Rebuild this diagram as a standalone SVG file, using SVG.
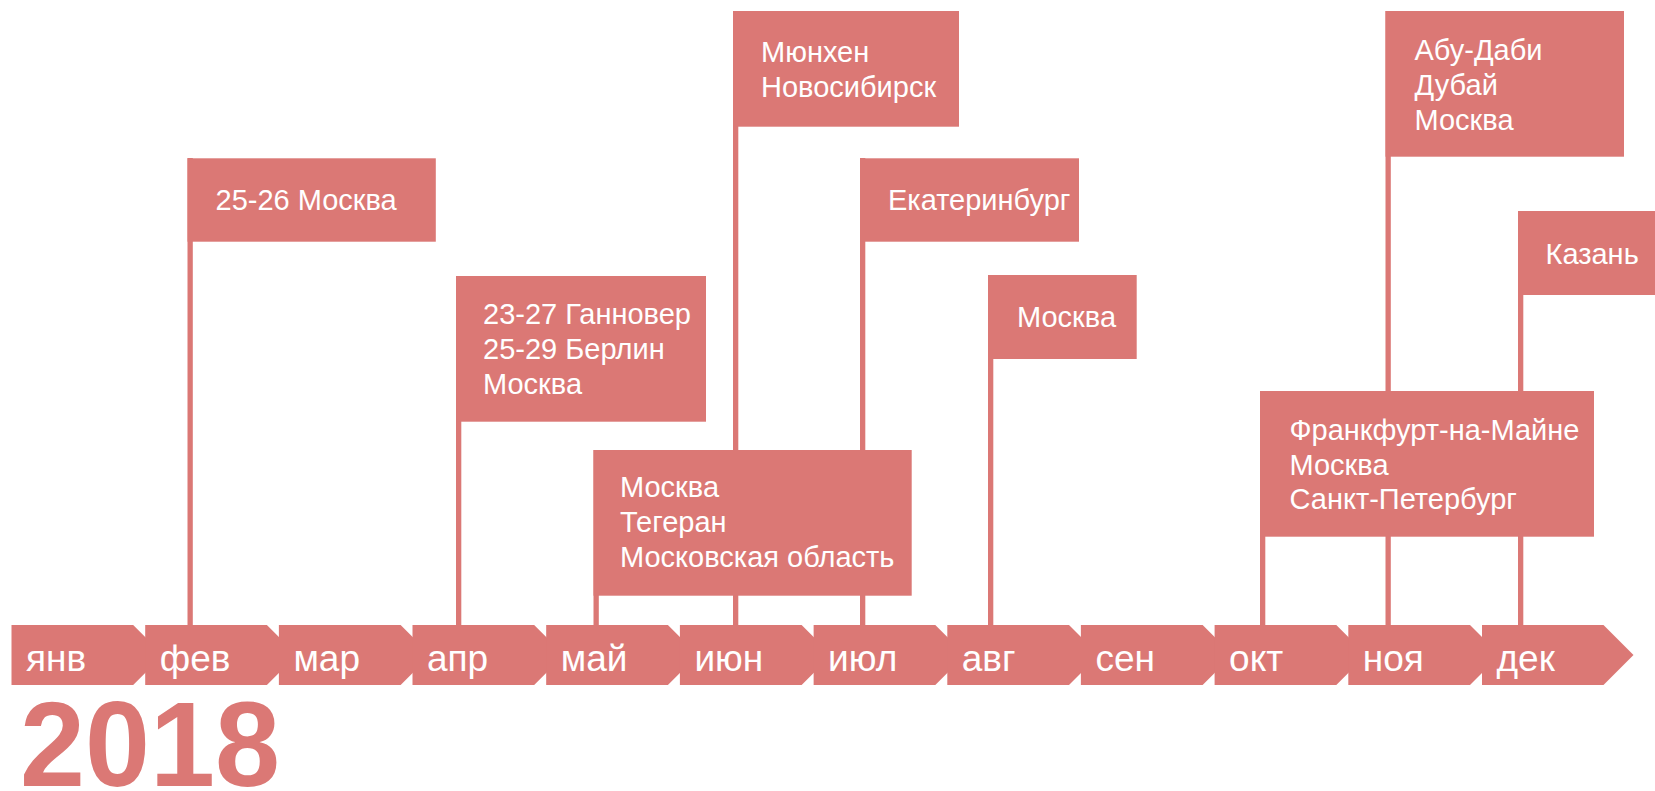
<svg xmlns="http://www.w3.org/2000/svg" width="1655" height="791" viewBox="0 0 1655 791">
<style>
.f{fill:#DB7875}
.t{fill:#fff;font-family:"Liberation Sans",Arial,sans-serif;font-size:29px}
.m{fill:#fff;font-family:"Liberation Sans",Arial,sans-serif;font-size:37px}
.y{fill:#DB7875;font-family:"Liberation Sans",Arial,sans-serif;font-size:120px;font-weight:bold}
</style>
<rect width="1655" height="791" fill="#fff"/>
<g id="connectors">
<rect class="f" x="187.5" y="158" width="5.3" height="467"/>
<rect class="f" x="456" y="276" width="5.3" height="349"/>
<rect class="f" x="593.5" y="450" width="5.3" height="175"/>
<rect class="f" x="733" y="11" width="5.3" height="614"/>
<rect class="f" x="860" y="158" width="5.3" height="467"/>
<rect class="f" x="988" y="275" width="5.3" height="350"/>
<rect class="f" x="1260" y="391" width="5.3" height="234"/>
<rect class="f" x="1385.5" y="11" width="5.3" height="614"/>
<rect class="f" x="1518" y="211" width="5.3" height="414"/>
</g>
<g id="timeline">
<g id="m-jan"><polygon class="f" points="11.5,625 133.2,625 163.2,655 133.2,685 11.5,685"/><text class="m" x="26" y="671">янв</text></g>
<g id="m-feb"><polygon class="f" points="145.2,625 266.9,625 296.9,655 266.9,685 145.2,685"/><text class="m" x="159.7" y="671">фев</text></g>
<g id="m-mar"><polygon class="f" points="278.9,625 400.6,625 430.6,655 400.6,685 278.9,685"/><text class="m" x="293.4" y="671">мар</text></g>
<g id="m-apr"><polygon class="f" points="412.5,625 534.2,625 564.2,655 534.2,685 412.5,685"/><text class="m" x="427" y="671">апр</text></g>
<g id="m-may"><polygon class="f" points="546.2,625 667.9,625 697.9,655 667.9,685 546.2,685"/><text class="m" x="560.7" y="671">май</text></g>
<g id="m-jun"><polygon class="f" points="679.9,625 801.6,625 831.6,655 801.6,685 679.9,685"/><text class="m" x="694.4" y="671">июн</text></g>
<g id="m-jul"><polygon class="f" points="813.6,625 935.3,625 965.3,655 935.3,685 813.6,685"/><text class="m" x="828.1" y="671">июл</text></g>
<g id="m-aug"><polygon class="f" points="947.3,625 1069,625 1099,655 1069,685 947.3,685"/><text class="m" x="961.8" y="671">авг</text></g>
<g id="m-sep"><polygon class="f" points="1080.9,625 1202.6,625 1232.6,655 1202.6,685 1080.9,685"/><text class="m" x="1095.4" y="671">сен</text></g>
<g id="m-oct"><polygon class="f" points="1214.6,625 1336.3,625 1366.3,655 1336.3,685 1214.6,685"/><text class="m" x="1229.1" y="671">окт</text></g>
<g id="m-nov"><polygon class="f" points="1348.3,625 1470,625 1500,655 1470,685 1348.3,685"/><text class="m" x="1362.8" y="671">ноя</text></g>
<g id="m-dec"><polygon class="f" points="1482,625 1603.5,625 1633.5,655 1603.5,685 1482,685"/><text class="m" x="1496.5" y="671">дек</text></g>
</g>
<g id="flag-feb"><rect class="f" x="187.5" y="158.3" width="248.3" height="83.4"/><text class="t" x="215.5" y="210.3">25-26 Москва</text></g>
<g id="flag-apr"><rect class="f" x="456" y="276" width="250" height="145.7"/><text class="t" x="483" y="323.5">23-27 Ганновер</text><text class="t" x="483" y="359">25-29 Берлин</text><text class="t" x="483" y="394">Москва</text></g>
<g id="flag-may"><rect class="f" x="593.5" y="450" width="318.2" height="145.7"/><text class="t" x="620" y="497">Москва</text><text class="t" x="620" y="532">Тегеран</text><text class="t" x="620" y="567">Московская область</text></g>
<g id="flag-jun"><rect class="f" x="733" y="11" width="226" height="115.7"/><text class="t" x="761" y="62">Мюнхен</text><text class="t" x="761" y="97">Новосибирск</text></g>
<g id="flag-jul"><rect class="f" x="860" y="158.3" width="219" height="83.4"/><text class="t" x="888" y="210.3">Екатеринбург</text></g>
<g id="flag-aug"><rect class="f" x="988" y="275" width="148.7" height="84"/><text class="t" x="1017" y="327">Москва</text></g>
<g id="flag-oct"><rect class="f" x="1260" y="391" width="334" height="145.7"/><text class="t" x="1289.5" y="440">Франкфурт-на-Майне</text><text class="t" x="1289.5" y="474.5">Москва</text><text class="t" x="1289.5" y="508.5">Санкт-Петербург</text></g>
<g id="flag-nov"><rect class="f" x="1385.5" y="11" width="238.5" height="145.7"/><text class="t" x="1414.5" y="59.5">Абу-Даби</text><text class="t" x="1414.5" y="95">Дубай</text><text class="t" x="1414.5" y="129.5">Москва</text></g>
<g id="flag-dec"><rect class="f" x="1518" y="211" width="137" height="84"/><text class="t" x="1545.5" y="264">Казань</text></g>
<text class="y" x="20" y="786" textLength="260" lengthAdjust="spacingAndGlyphs">2018</text>
</svg>
